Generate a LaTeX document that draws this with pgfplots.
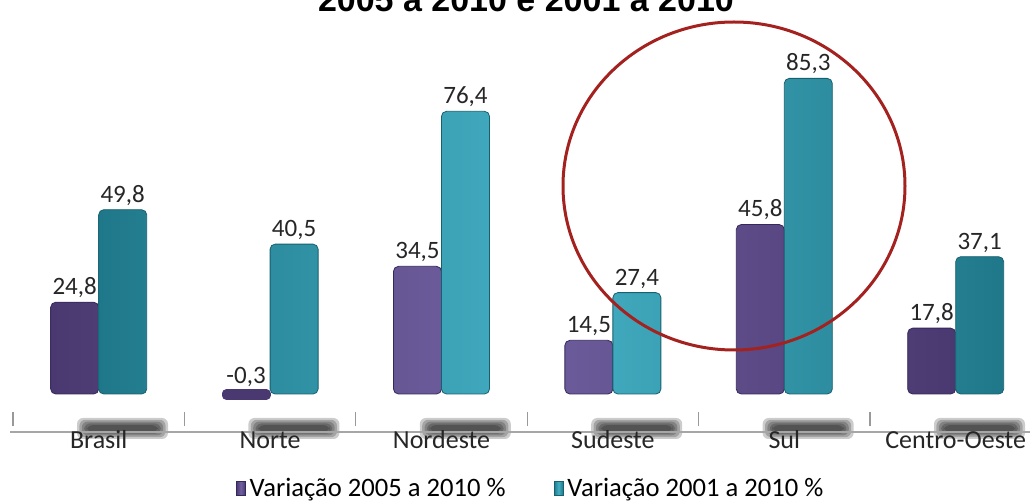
\documentclass[border=0pt]{standalone}
\usepackage{fontspec}
\setmainfont{Carlito}
\newfontfamily\titlefont{Liberation Sans}
\usepackage{pgfplots}
\pgfplotsset{compat=1.18}
\pgfdeclarelayer{background}
\pgfsetlayers{background,main}
\definecolor{purpL}{HTML}{7060A0}
\definecolor{purpD}{HTML}{4A3870}
\definecolor{purpE}{HTML}{35285A}
\definecolor{tealL}{HTML}{45AFC4}
\definecolor{tealD}{HTML}{1F7889}
\definecolor{tealE}{HTML}{17606E}
\definecolor{ringred}{HTML}{A3221F}
\begin{document}
\begin{tikzpicture}
\begin{axis}[
  scale only axis,
  width=508.5pt, height=175.75pt,
  xmin=-0.5, xmax=5.4335, ymin=-5, ymax=90,
  axis y line=none, axis x line*=bottom,
  x axis line style={draw=none},
  xtick={0,...,5},
  xticklabels={Brasil,Norte,Nordeste,Sudeste,Sul,Centro-Oeste},
  major tick length=0pt,
  minor xtick={-0.5,0.5,...,4.5},
  minor tick length=7pt, tick align=center,
  minor tick style={gray!80, line width=0.6pt},
  xticklabel style={anchor=base, yshift=-18pt, font=\fontsize{13}{15}\selectfont, text=black!85},
  ybar, bar width=24pt,
  nodes near coords,
  every node near coord/.append style={anchor=south, font=\fontsize{12.5}{14}\selectfont, text=black!85, inner sep=2pt},
  /pgf/number format/.cd, use comma, fixed, fixed zerofill, precision=1, assume math mode=true,
  /pgfplots/.cd,
  legend columns=2,
  legend style={draw=none, fill=none, at={(0.51,-0.216)}, anchor=center,
    font=\fontsize{13.3}{14}\selectfont, inner sep=1pt,
    /tikz/every even column/.append style={column sep=22pt}},
  legend image code/.code={\fill[#1, rounded corners=0pt] (0pt,-3.6pt) rectangle (4.5pt,3.6pt);},
]
\addplot[bar shift=-12pt, draw=purpE, line width=0.4pt, left color=purpD, right color=purpD, middle color=purpL, rounded corners=2.5pt]
  coordinates {(0,24.8) (2,34.5) (3,14.5) (4,45.8) (5,17.8)};
\addplot[bar shift=12pt, draw=tealE, line width=0.4pt, left color=tealD, right color=tealD, middle color=tealL, rounded corners=2.5pt]
  coordinates {(0,49.8) (1,40.5) (2,76.4) (3,27.4) (4,85.3) (5,37.1)};
\legend{Variação 2005 a 2010 \%, Variação 2001 a 2010 \%}
\addplot[forget plot, bar shift=-12pt, bar width=20pt, draw=purpD, fill=purpD, line width=4.5pt, line join=round]
  coordinates {(1,-0.3)};
\coordinate (O) at (axis cs:-0.5,0);
\end{axis}
\begin{scope}[shift={(O)}, xshift=-6.5pt, yshift=-54.5pt, x=1pt, y=1pt]
  \pgfresetboundingbox
  \useasboundingbox (0,0) rectangle (515,251.5);
  % title (cut at the top in the reference)
  \node[anchor=base, inner sep=0pt] at (263,245.5) {\titlefont\bfseries\fontsize{17}{19}\selectfont 2005 a 2010 e 2001 a 2010};
  % red ring
  \draw[ringred, line width=1.5pt] (367,158.5) ellipse [x radius=85.5, y radius=82];
  \begin{pgfonlayer}{background}
    % blurred shadows behind category labels
    \foreach \i in {0,...,5}{
      \pgfmathsetmacro\c{49.5+85.7*\i}
      \foreach \k in {0,...,4}{
        \fill[black, opacity=0.2, rounded corners=3pt] (\c-11+\k*1.2, 32+\k*0.9) rectangle (\c+34.5-\k*1.2, 42.5-\k*0.9);
      }
    }
    \draw[gray!70, line width=1pt] (5,35.5) -- (515,35.5);
  \end{pgfonlayer}
\end{scope}
\end{tikzpicture}
\end{document}
